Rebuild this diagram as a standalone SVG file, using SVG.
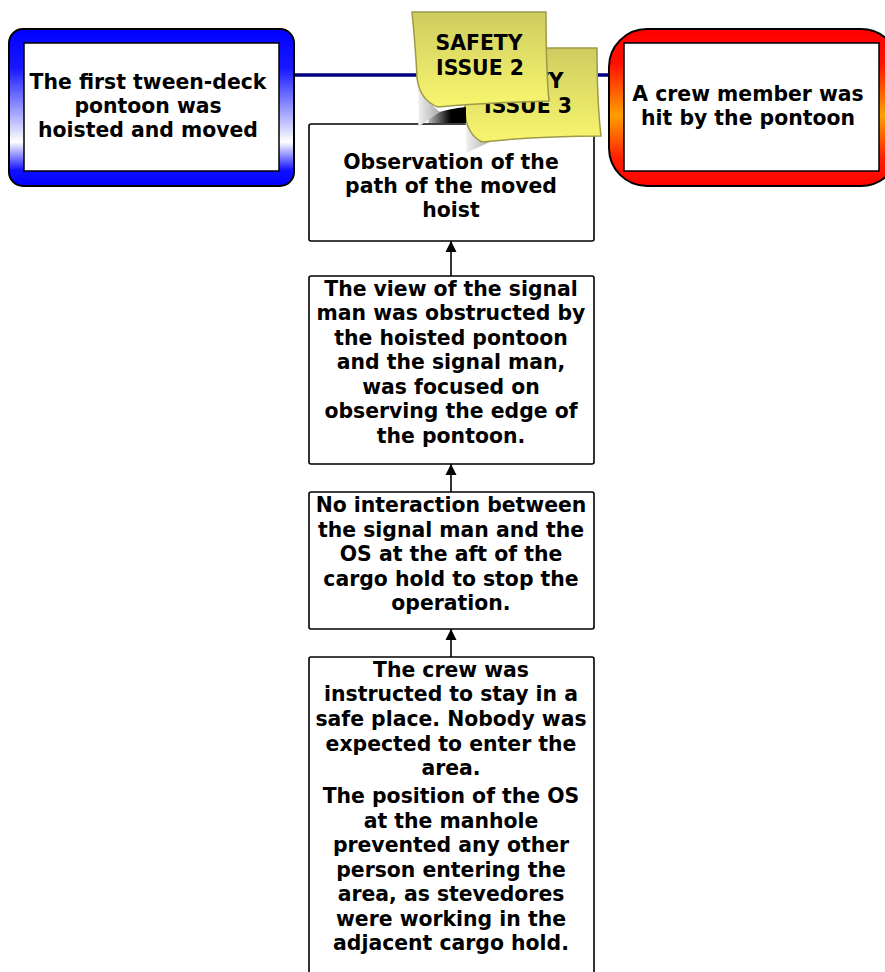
<svg xmlns="http://www.w3.org/2000/svg" width="885" height="972" viewBox="0 0 885 972">
  <defs>
    <linearGradient id="gBlue" x1="0" y1="0" x2="0" y2="1">
      <stop offset="0" stop-color="#0000ff"/>
      <stop offset="0.25" stop-color="#1818ff"/>
      <stop offset="0.72" stop-color="#ffffff"/>
      <stop offset="0.9" stop-color="#1010ff"/>
      <stop offset="1" stop-color="#0000ff"/>
    </linearGradient>
    <linearGradient id="gRed" x1="0" y1="0" x2="0" y2="1">
      <stop offset="0" stop-color="#ff0000"/>
      <stop offset="0.22" stop-color="#ff1000"/>
      <stop offset="0.55" stop-color="#ffa000"/>
      <stop offset="0.82" stop-color="#ff2000"/>
      <stop offset="1" stop-color="#ff0000"/>
    </linearGradient>
    <linearGradient id="gNote" x1="0" y1="0" x2="0" y2="1">
      <stop offset="0" stop-color="#cfcc60"/>
      <stop offset="1" stop-color="#f8f66e"/>
    </linearGradient>
    <linearGradient id="gCurl" x1="0" y1="0" x2="1" y2="0">
      <stop offset="0" stop-color="#f4f4f4"/>
      <stop offset="1" stop-color="#a8a8a8"/>
    </linearGradient>
    <linearGradient id="gDark" x1="0" y1="0" x2="1" y2="0">
      <stop offset="0" stop-color="#bdbdbd"/>
      <stop offset="0.6" stop-color="#000000"/>
      <stop offset="1" stop-color="#000000"/>
    </linearGradient>
    <marker id="arrow" markerUnits="userSpaceOnUse" markerWidth="12" markerHeight="12" refX="11" refY="6" orient="auto">
      <path d="M0,0.5 L11,6 L0,11.5 Z" fill="#000"/>
    </marker>
    <style>
      text { font-family: "DejaVu Sans", Verdana, sans-serif; font-weight: bold; font-size: 20.4px; fill: #000; text-anchor: middle; }
      .box { fill: #fff; stroke: #000; stroke-width: 1.6; }
      .inner { fill: #fff; stroke: #000; stroke-width: 1.5; }
      .note { fill: url(#gNote); stroke: #9c9a48; stroke-width: 1.5; }
      .conn { stroke: #000; stroke-width: 1.6; fill: none; }
    </style>
  </defs>

  <rect width="885" height="972" fill="#fff"/>

  <!-- connectors -->
  <g id="connectors">
    <line x1="294" y1="75" x2="609" y2="75" stroke="#000080" stroke-width="3.5"/>
    <line class="conn" x1="451" y1="276" x2="451" y2="241" marker-end="url(#arrow)"/>
    <line class="conn" x1="451" y1="492" x2="451" y2="464" marker-end="url(#arrow)"/>
    <line class="conn" x1="451" y1="657" x2="451" y2="629" marker-end="url(#arrow)"/>
  </g>

  <!-- event: start -->
  <g id="node-start">
    <rect x="9" y="29" width="285" height="157" rx="14" fill="url(#gBlue)" stroke="#000" stroke-width="2"/>
    <rect class="inner" x="24" y="43" width="255" height="128"/>
    <text x="148" y="89">The first tween-deck</text>
    <text x="148" y="113">pontoon was</text>
    <text x="148" y="137">hoisted and moved</text>
  </g>

  <!-- event: outcome -->
  <g id="node-outcome">
    <rect x="609" y="29" width="290" height="157" rx="38" fill="url(#gRed)" stroke="#000" stroke-width="2"/>
    <rect class="inner" x="624" y="43" width="255" height="128"/>
    <text x="748" y="101">A crew member was</text>
    <text x="748" y="125">hit by the pontoon</text>
  </g>

  <!-- causal chain -->
  <g id="node-observation">
    <rect class="box" x="309" y="124" width="285" height="117" rx="2"/>
    <text x="451" y="169">Observation of the</text>
    <text x="451" y="193">path of the moved</text>
    <text x="451" y="217">hoist</text>
  </g>

  <g id="node-view">
    <rect class="box" x="309" y="276" width="285" height="188" rx="2"/>
    <text x="451" y="296">The view of the signal</text>
    <text x="451" y="320">man was obstructed by</text>
    <text x="451" y="345">the hoisted pontoon</text>
    <text x="451" y="369">and the signal man,</text>
    <text x="451" y="394">was focused on</text>
    <text x="451" y="418">observing the edge of</text>
    <text x="451" y="443">the pontoon.</text>
  </g>

  <g id="node-interaction">
    <rect class="box" x="309" y="492" width="285" height="137" rx="2"/>
    <text x="451" y="512">No interaction between</text>
    <text x="451" y="537">the signal man and the</text>
    <text x="451" y="561">OS at the aft of the</text>
    <text x="451" y="586">cargo hold to stop the</text>
    <text x="451" y="610">operation.</text>
  </g>

  <g id="node-crew">
    <rect class="box" x="309" y="657" width="285" height="330" rx="2"/>
    <text x="451" y="677">The crew was</text>
    <text x="451" y="701">instructed to stay in a</text>
    <text x="451" y="726">safe place. Nobody was</text>
    <text x="451" y="751">expected to enter the</text>
    <text x="451" y="775">area.</text>
    <text x="451" y="803">The position of the OS</text>
    <text x="451" y="828">at the manhole</text>
    <text x="451" y="852">prevented any other</text>
    <text x="451" y="877">person entering the</text>
    <text x="451" y="901">area, as stevedores</text>
    <text x="451" y="926">were working in the</text>
    <text x="451" y="950">adjacent cargo hold.</text>
  </g>

  <!-- sticky note: safety issue 3 -->
  <g id="note-issue-3">
    <path d="M465,112 C466,128 467,142 466,153 L492,141 Z" fill="url(#gCurl)"/>
    <path class="note" d="M470,48 L597,48 C597,80 598,110 601,136 C560,136 520,138 482,142 C472,137 466,128 465,112 C464,90 466,70 470,48 Z"/>
    <text x="520" y="88">SAFETY</text>
    <text x="528" y="113">ISSUE 3</text>
  </g>

  <!-- sticky note: safety issue 2 -->
  <g id="note-issue-2">
    <path d="M430,115 C445,110 455,108 466,107 L466,123 L428,123 Z" fill="url(#gDark)"/>
    <path d="M417,78 C418,97 420,113 418,127 L440,112 C434,107 424,98 417,78 Z" fill="url(#gCurl)"/>
    <path class="note" d="M412,12 L546,12 C546,40 546,70 549,101 C510,102 472,104 438,107 C427,103 419,94 417,78 C416,54 414,32 412,12 Z"/>
    <text x="479" y="50">SAFETY</text>
    <text x="480" y="75">ISSUE 2</text>
  </g>
</svg>
